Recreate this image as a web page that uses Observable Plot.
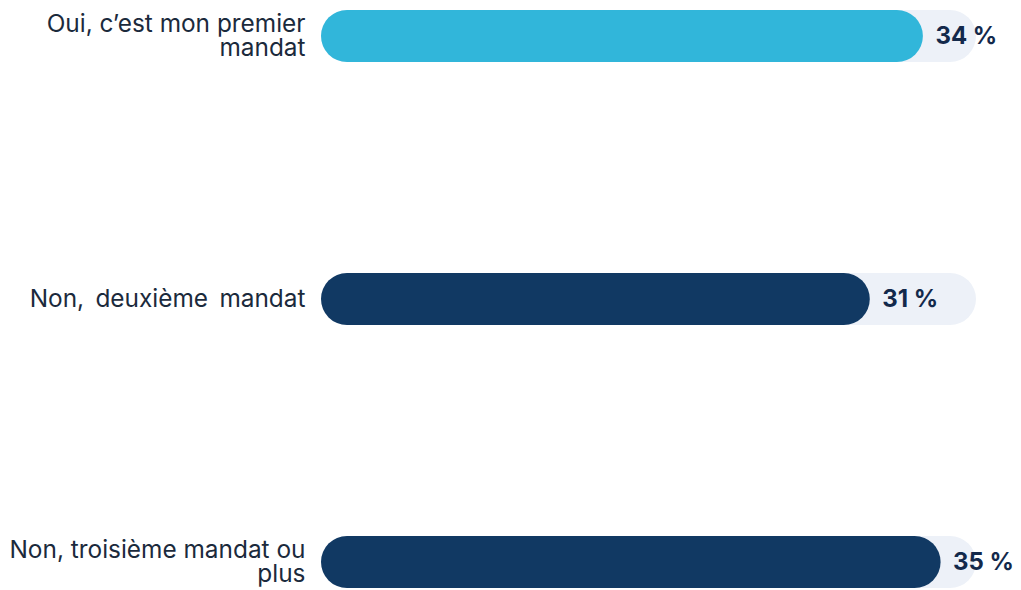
<!DOCTYPE html>
<html>
<head>
<meta charset="utf-8">
<script src="https://cdn.jsdelivr.net/npm/d3@7"></script>
<script src="https://cdn.jsdelivr.net/npm/@observablehq/plot@0.6"></script>
<style>
  html, body { margin: 0; padding: 0; background: #ffffff; }
  #chart svg { display: block; }
</style>
</head>
<body>
<div id="chart"></div>
<script>
const categories = [
  "Oui, c’est mon premier mandat",
  "Non, deuxième mandat",
  "Non, troisième mandat ou plus"
];
const values = [34, 31, 35];
const barColors = ["#31b6da", "#113963", "#113963"];
const trackMax = 37;

const rows = categories.map((c, i) => ({
  cat: c,
  value: values[i],
  color: barColors[i],
  track: trackMax
}));

const chart = Plot.plot({
  width: 1021,
  height: 590,
  marginLeft: 321,
  marginRight: 45,
  marginTop: 9,
  marginBottom: 1,
  style: {
    fontFamily: "Inter, 'Noto Sans', sans-serif",
    fontSize: "24px",
    background: "#ffffff",
    color: "#1b2a3c"
  },
  x: { domain: [0, trackMax], axis: null },
  y: { domain: categories, paddingInner: 0.803, paddingOuter: 0, label: null },
  color: { type: "identity" },
  marks: [
    Plot.barX(rows, { x: "track", y: "cat", fill: "#edf1f8", rx: 26 }),
    Plot.barX(rows, { x: "value", y: "cat", fill: "color", rx: 26 }),
    Plot.text(rows, {
      x: "value",
      y: "cat",
      text: d => `${d.value} %`,
      textAnchor: "start",
      dx: 12,
      fontWeight: 700,
      fontSize: 24,
      fill: "#13294b"
    }),
    Plot.axisY({
      tickSize: 0,
      tickPadding: 16,
      lineWidth: 12.5,
      lineHeight: 0.985,
      fontSize: 24.4,
      fill: "#1b2a3c",
      label: null
    })
  ]
});

// the reference sets the single-line label with slightly wider word gaps
d3.select(chart).selectAll("text")
  .filter(function () { return this.textContent === categories[1]; })
  .attr("word-spacing", "4.5px");

document.getElementById("chart").appendChild(chart);
</script>
</body>
</html>
